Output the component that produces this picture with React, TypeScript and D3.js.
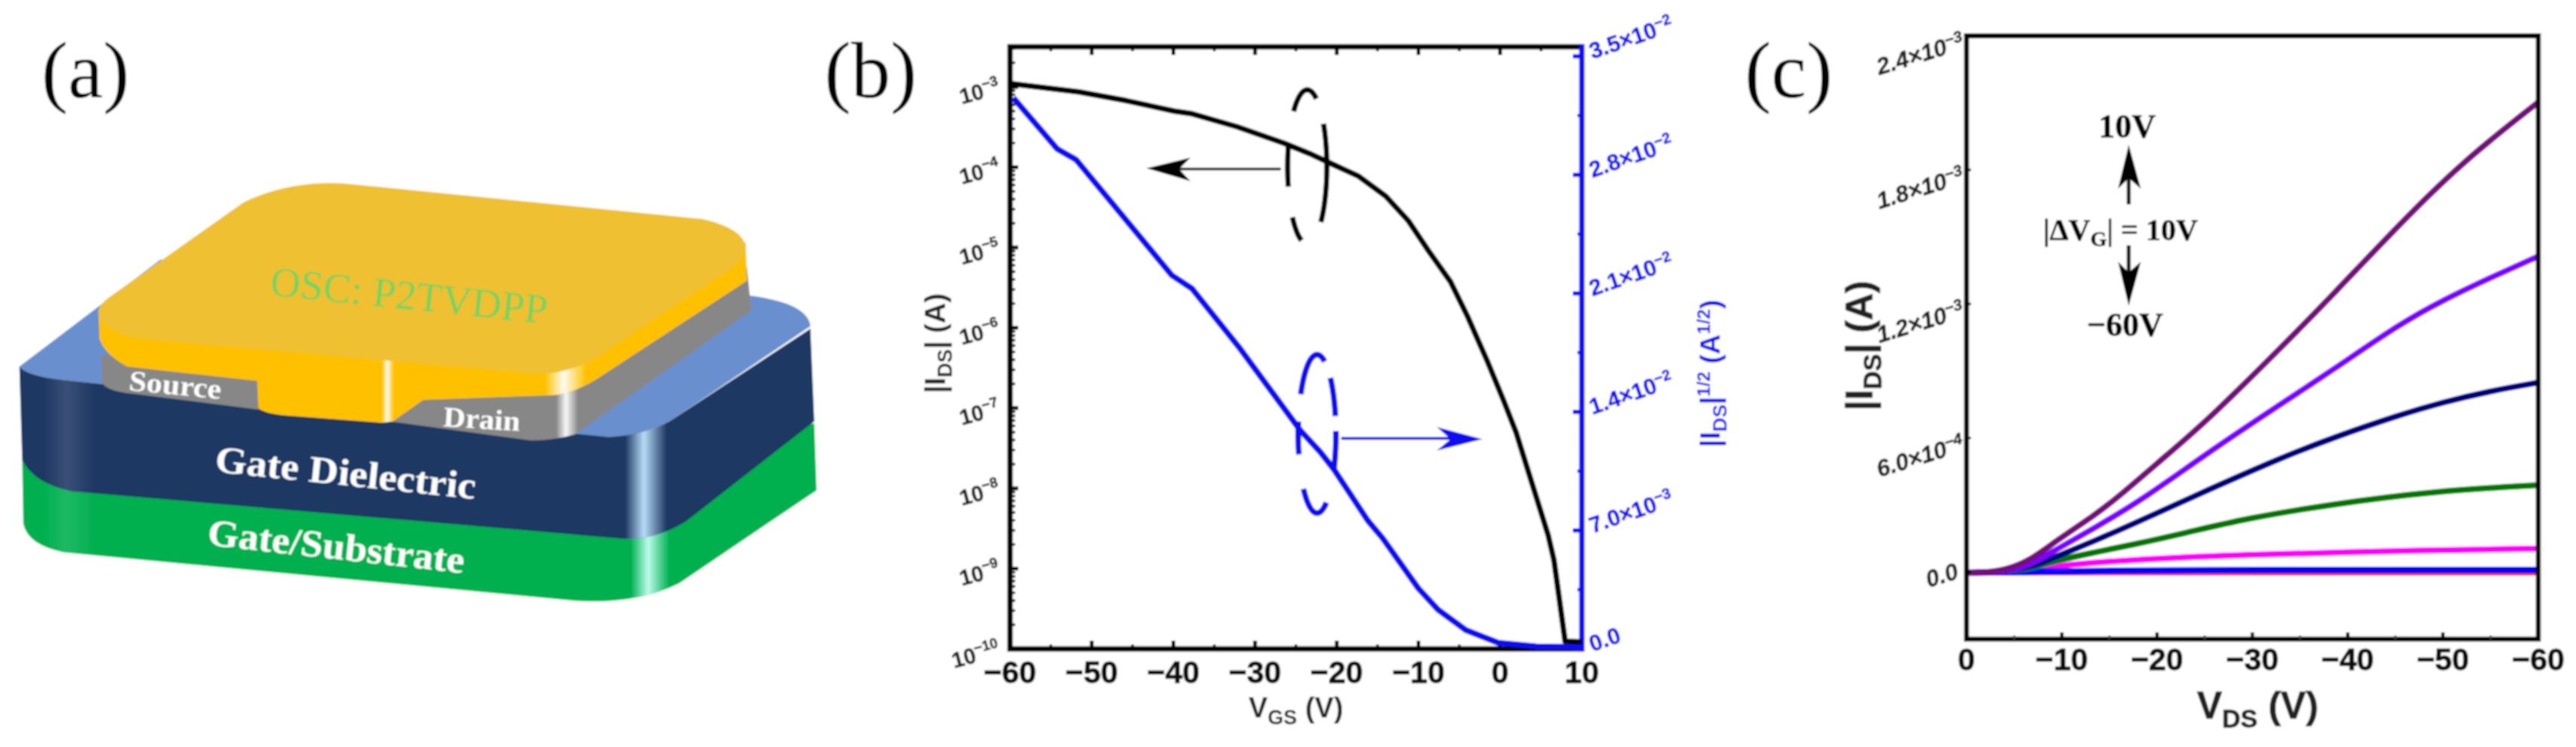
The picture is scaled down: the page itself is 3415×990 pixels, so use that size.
import React from "react";
import * as d3 from "d3";

// ---------- panel (b) data ----------
const transferVgs = [-60,-51.6,-45.8,-39.9,-37.7,-32.2,-26.4,-23,-20,-17.4,-14,-11.2,-8.8,-6.1,-3.95,-1.5,0.4,1.96,5.9,6.6,7.96,10];
const transferIds = [1.1e-3,8.69e-4,6.76e-4,5e-4,4.63e-4,3.19e-4,1.98e-4,1.43e-4,1.03e-4,7.8e-5,4.35e-5,2.13e-5,9.2e-6,3.78e-6,1.36e-6,3.7e-7,1.26e-7,4.98e-8,2.57e-9,1.26e-9,1.24e-10,1.22e-10];
const sqrtVgs = [-59.6,-54.2,-51.9,-40.2,-37.7,-32,-24.5,-22,-20.3,-16.2,-14.4,-10,-7.6,-4.2,-0.2,4.4,10];
const sqrtIds = [0.03255,0.02952,0.02889,0.02207,0.02127,0.01784,0.01293,0.01162,0.01057,0.00758,0.00655,0.00357,0.00232,0.00111,0.00036,0.00015,0.0001];
const bXTicks = [-60,-50,-40,-30,-20,-10,0,10];
const bLogTicks = [-10,-9,-8,-7,-6,-5,-4,-3];
const bRightTicks: [number,string,string][] = [[0,"0.0",""],[0.007,"7.0×10","−3"],[0.014,"1.4×10","−2"],[0.021,"2.1×10","−2"],[0.028,"2.8×10","−2"],[0.035,"3.5×10","−2"]];

// ---------- panel (c) data ----------
const vdsPurple = [0,-2,-4.2,-6.8,-9.4,-13.4,-15.8,-21.3,-25.3,-33.3,-38.5,-45.4,-52,-60];
const idsPurple = [-3e-6,-2e-6,1e-5,5.5e-5,1.4e-4,2.53e-4,3.31e-4,5.34e-4,6.79e-4,1.017e-3,1.244e-3,1.555e-3,1.835e-3,2.103e-3];
const vdsViolet = [0,-2,-4.2,-6.8,-9.4,-13.4,-18.7,-25.3,-33.3,-38.5,-45.4,-50,-55,-60];
const idsViolet = [-3e-6,-2e-6,3e-6,3.4e-5,1.01e-4,1.96e-4,3.31e-4,5.34e-4,7.61e-4,9.06e-4,1.109e-3,1.217e-3,1.318e-3,1.413e-3];
const vdsNavy = [0,-2,-4.2,-6.8,-9.4,-13.4,-17.4,-23.4,-33.3,-38.5,-45.4,-50,-55,-60];
const idsNavy = [-3e-6,-2e-6,2e-6,2.4e-5,6.8e-5,1.39e-4,2.13e-4,3.31e-4,5.17e-4,6.02e-4,7.03e-4,7.6e-4,8.11e-4,8.48e-4];
const vdsGreen = [0,-4.2,-6.8,-9.4,-13.4,-17.4,-22.7,-29.3,-38.4,-49,-60];
const idsGreen = [-3e-6,0,1.7e-5,5.1e-5,8.8e-5,1.22e-4,1.72e-4,2.4e-4,3.04e-4,3.62e-4,3.89e-4];
const vdsMagenta = [0,-4.2,-6.8,-9.4,-14.7,-20,-29.3,-49,-60];
const idsMagenta = [-3e-6,0,1e-5,2.7e-5,4.7e-5,6.1e-5,7.8e-5,9.9e-5,1.05e-4];
const vdsBlue = [0,-6,-15,-30,-60];
const idsBlue = [-3e-6,0,7e-6,1e-5,1e-5];
const vdsRed = [0,-30,-60];
const idsRed = [-7e-6,-7e-6,-7e-6];
const cXTicks = [0,-10,-20,-30,-40,-50,-60];
const cYTicks: [number,string,string][] = [[0,"0.0",""],[6e-4,"6.0×10","−4"],[1.2e-3,"1.2×10","−3"],[1.8e-3,"1.8×10","−3"],[2.4e-3,"2.4×10","−3"]];

const SANS = "'Liberation Sans', Arial, sans-serif";
const SERIF = "'Liberation Serif', 'Times New Roman', serif";
const BLUE = "#0a0af0";

type Pt = [number, number];
const zip = (a: number[], b: number[]): Pt[] => a.map((v, i) => [v, b[i]]);

const ellipseSeg = (cx: number, cy: number, rx: number, ry: number, a0: number, a1: number) => {
  const ts = d3.range(a0, a1 + 0.01, 4);
  return d3.line()(ts.map(t => [cx + rx * Math.cos(t * Math.PI / 180), cy + ry * Math.sin(t * Math.PI / 180)] as Pt)) as string;
};

function PanelB() {
  const L = 1339, R = 2097, T = 62, B = 860;
  const x = d3.scaleLinear().domain([-60, 10]).range([L, R]);
  const yL = d3.scaleLog().domain([1e-10, 10 ** -2.5]).range([B, T]);
  const yR = d3.scaleLinear().domain([0, 0.03556]).range([B, T]);
  const lineL = d3.line<Pt>().x(d => x(d[0])).y(d => yL(d[1]));
  const lineR = d3.line<Pt>().x(d => x(d[0])).y(d => yR(d[1]));
  const minors: number[] = [];
  for (const e of d3.range(-10, -2)) for (const m of d3.range(2, 10)) {
    const v = m * 10 ** e;
    if (v < 10 ** -2.5) minors.push(v);
  }
  const blackSegs: [number, number][] = [[-134,-60],[-34,47],[107,141],[165,197]];
  const blueSegs: [number, number][] = [[-150,-65],[-45,-13],[-2,27],[60,138],[165,190]];
  return (
    <g>
      <text x={1093} y={129} fontFamily={SERIF} fontSize={105}>(b)</text>
      {/* frame */}
      <path d={`M${R},${T}H${L}V${B}H${R}`} fill="none" stroke="#000" strokeWidth={7} />
      {bXTicks.map(v => (
        <g key={v}>
          <line x1={x(v)} x2={x(v)} y1={B} y2={B - 11} stroke="#000" strokeWidth={5} />
          <line x1={x(v)} x2={x(v)} y1={T} y2={T + 11} stroke="#000" strokeWidth={5} />
          <text x={x(v)} y={905} textAnchor="middle" fontFamily={SANS} fontWeight={700} fontSize={41} fill="#111" stroke="#111" strokeWidth={0.9}>
            {v < 0 ? `−${-v}` : v}
          </text>
          {v < 10 && <>
            <line x1={x(v + 5)} x2={x(v + 5)} y1={B} y2={B - 6} stroke="#000" strokeWidth={3.5} />
            <line x1={x(v + 5)} x2={x(v + 5)} y1={T} y2={T + 6} stroke="#000" strokeWidth={3.5} />
          </>}
        </g>
      ))}
      {minors.map((v, i) => <line key={i} x1={L} x2={L + 7} y1={yL(v)} y2={yL(v)} stroke="#000" strokeWidth={3} />)}
      {bLogTicks.map(e => (
        <g key={e}>
          <line x1={L} x2={L + 11} y1={yL(10 ** e)} y2={yL(10 ** e)} stroke="#000" strokeWidth={5} />
          <text transform={`translate(1327,${yL(10 ** e) + 9}) rotate(-15)`} textAnchor="end" fontFamily={SANS} fontWeight={700} fontSize={29} fill="#222" stroke="#222" strokeWidth={0.5}>
            10<tspan dy={-12} fontSize={19}>{`−${-e}`}</tspan>
          </text>
        </g>
      ))}
      {/* blue right axis */}
      <line x1={R} x2={R} y1={T - 3.5} y2={B + 3.5} stroke={BLUE} strokeWidth={7} />
      {d3.range(0.0035, 0.035, 0.007).map(v => <line key={v} x1={R} x2={R - 6} y1={yR(v)} y2={yR(v)} stroke={BLUE} strokeWidth={4} />)}
      {bRightTicks.map(([v, a, b]) => (
        <g key={v}>
          <line x1={R} x2={R - 12} y1={yR(v)} y2={yR(v)} stroke={BLUE} strokeWidth={5.5} />
          <text transform={`translate(2111,${yR(v) + 4}) rotate(-19)`} fontFamily={SANS} fontWeight={700} fontSize={30} fill={BLUE} stroke={BLUE} strokeWidth={0.5}>
            {a}{b && <tspan dy={-11} fontSize={20}>{b}</tspan>}
          </text>
        </g>
      ))}
      {/* curves */}
      <path d={lineL(zip(transferVgs, transferIds)) as string} fill="none" stroke="#000" strokeWidth={7.5} strokeLinejoin="round" />
      <path d={lineR(zip(sqrtVgs, sqrtIds)) as string} fill="none" stroke={BLUE} strokeWidth={8} strokeLinejoin="round" />
      {/* dashed ellipses */}
      {blackSegs.map(([a, b]) => <path key={a} d={ellipseSeg(1733, 221, 26, 102, a, b)} fill="none" stroke="#000" strokeWidth={7} />)}
      {blueSegs.map(([a, b]) => <path key={a} d={ellipseSeg(1746, 575, 25, 105, a, b)} fill="none" stroke={BLUE} strokeWidth={7.5} />)}
      {/* arrows */}
      <line x1={1698} x2={1560} y1={224} y2={224} stroke="#222" strokeWidth={3.5} />
      <path d="M1520,223 L1578,209 L1563,224 L1578,240 Z" fill="#000" />
      <line x1={1778} x2={1925} y1={581} y2={581} stroke={BLUE} strokeWidth={4} />
      <path d="M1965,582 L1905,566 L1923,582 L1905,597 Z" fill={BLUE} />
      {/* titles */}
      <text x={1718} y={951} textAnchor="middle" fontFamily={SANS} fontSize={38} fontWeight={700} fill="#222">
        V<tspan dy={9} fontSize={27}>GS</tspan><tspan dy={-9}> (V)</tspan>
      </text>
      <text transform="translate(1253,455) rotate(-90)" textAnchor="middle" fontFamily={SANS} fontSize={38} fontWeight={700} fill="#222">
        |I<tspan dy={9} fontSize={27}>DS</tspan><tspan dy={-9}>| (A)</tspan>
      </text>
      <text transform="translate(2280,495) rotate(-90)" textAnchor="middle" fontFamily={SANS} fontSize={37} fontWeight={700} fill={BLUE}>
        |I<tspan dy={9} fontSize={26}>DS</tspan><tspan dy={-9}>|</tspan><tspan dy={-13} fontSize={24}>1/2</tspan><tspan dy={13}> (A</tspan><tspan dy={-13} fontSize={24}>1/2</tspan><tspan dy={13}>)</tspan>
      </text>
    </g>
  );
}

function PanelC() {
  const L = 2607, R = 3365, T = 47.5, B = 847;
  const x = d3.scaleLinear().domain([0, -60]).range([L, R]);
  const y = d3.scaleLinear().domain([-3e-4, 2.4e-3]).range([B, T]);
  const line = d3.line<Pt>().x(d => x(d[0])).y(d => y(d[1])).curve(d3.curveBasis);
  const series: [number[], number[], string, number][] = [
    [vdsRed, idsRed, "#ff3030", 5],
    [vdsMagenta, idsMagenta, "#ff00ff", 8],
    [vdsBlue, idsBlue, "#0000ff", 8.5],
    [vdsGreen, idsGreen, "#007800", 8],
    [vdsNavy, idsNavy, "#00007d", 8],
    [vdsViolet, idsViolet, "#8000ff", 8],
    [vdsPurple, idsPurple, "#74107c", 8],
  ];
  return (
    <g>
      <text x={2313} y={129} fontFamily={SERIF} fontSize={105}>(c)</text>
      <g clipPath="url(#cclip)">
        {series.map(([a, b, c, w]) => <path key={c} d={line(zip(a, b)) as string} fill="none" stroke={c} strokeWidth={w} />)}
      </g>
      <rect x={L} y={T} width={R - L} height={B - T} fill="none" stroke="#000" strokeWidth={6.5} />
      {cXTicks.map(v => (
        <g key={v}>
          <line x1={x(v)} x2={x(v)} y1={B} y2={B - 9} stroke="#000" strokeWidth={4.5} />
          {v > -60 && <line x1={x(v - 5)} x2={x(v - 5)} y1={B} y2={B - 5} stroke="#444" strokeWidth={2.5} />}
          <text x={x(v)} y={888} textAnchor="middle" fontFamily={SANS} fontWeight={700} fontSize={41} fill="#111" stroke="#111" strokeWidth={0.9}>
            {v < 0 ? `−${-v}` : v}
          </text>
        </g>
      ))}
      {cYTicks.map(([v, a, b]) => (
        <g key={v}>
          <line x1={L} x2={L + 6} y1={y(v)} y2={y(v)} stroke="#000" strokeWidth={3} />
          <text transform={`translate(${b ? 2606 : 2598},${y(v) + (b ? 17 : 8)}) rotate(-17)`} textAnchor="end" fontFamily={SANS} fontWeight={700} fontStyle="italic" fontSize={31} fill="#222" stroke="#222" strokeWidth={0.5}>
            {a}{b && <tspan dy={-11} fontSize={21}>{b}</tspan>}
          </text>
        </g>
      ))}
      {/* annotation */}
      <text x={2820} y={182} textAnchor="middle" fontFamily={SERIF} fontWeight={700} fontSize={44} stroke="#000" strokeWidth={0.6}>10V</text>
      <line x1={2822} x2={2822} y1={271} y2={235} stroke="#111" strokeWidth={5} />
      <path d="M2822,192 L2838,250 L2822,236 L2808,250 Z" fill="#000" />
      <text x={2811} y={318} textAnchor="middle" fontFamily={SERIF} fontWeight={700} fontSize={40} stroke="#000" strokeWidth={0.5}>
        |ΔV<tspan dy={8} fontSize={28}>G</tspan><tspan dy={-8}>| = 10V</tspan>
      </text>
      <line x1={2822} x2={2822} y1={325} y2={362} stroke="#111" strokeWidth={5} />
      <path d="M2822,405 L2838,347 L2822,361 L2808,347 Z" fill="#000" />
      <text x={2817} y={445} textAnchor="middle" fontFamily={SERIF} fontWeight={700} fontSize={44} stroke="#000" strokeWidth={0.6}>−60V</text>
      {/* titles */}
      <text x={2993} y={952} textAnchor="middle" fontFamily={SANS} fontWeight={700} fontSize={50} fill="#222" stroke="#222" strokeWidth={0.8}>
        V<tspan dy={12} fontSize={34}>DS</tspan><tspan dy={-12}> (V)</tspan>
      </text>
      <text transform="translate(2482,458) rotate(-90)" textAnchor="middle" fontFamily={SANS} fontWeight={700} fontSize={50} fill="#222" stroke="#222" strokeWidth={0.8}>
        |I<tspan dy={12} fontSize={34}>DS</tspan><tspan dy={-12}>| (A)</tspan>
      </text>
    </g>
  );
}

function PanelA() {
  const green = "M40,965 L42,1100 Q50,1145 115,1160 L1040,1262 Q1150,1270 1228,1225 L1476,1030 L1472,890 Z";
  const navy = "M35,770 Q50,792 130,800 L1100,918 Q1160,915 1210,885 L1465,690 L1472,885 L1240,1095 Q1190,1132 1130,1132 L130,1032 Q60,1015 40,965 Z";
  const top = "M35,770 L290,545 L1350,620 Q1460,635 1465,685 L1210,885 Q1160,915 1100,918 L130,800 Q50,792 35,770 Z";
  const grey = "M1350,560 L1358,652 L1040,912 Q1000,925 960,925 L705,885 L765,840 L1040,800 Z M183,745 L185,805 Q195,822 240,827 L467,860 L465,795 Z";
  const ySide = "M178,655 L180,712 Q190,745 230,770 L465,800 L467,858 Q480,868 510,872 L690,888 L710,885 L765,840 L1000,830 Q1040,825 1080,795 L1350,590 L1348,510 Z";
  const yTop = "M178,655 Q178,640 200,622 L440,425 Q520,380 620,385 L1270,460 Q1345,480 1348,520 Q1345,545 1320,565 L1080,750 Q1030,785 970,785 L260,712 Q180,698 178,655 Z";
  const band = (id: string, clip: string, x0: number, x1: number) => (
    <rect x={x0} y={300} width={x1 - x0} height={1000} fill={`url(#${id})`} clipPath={`url(#${clip})`} />
  );
  return (
    <g>
      <text x={55} y={129} fontFamily={SERIF} fontSize={105}>(a)</text>
      <g transform="scale(0.7334,0.631)">
        <path d={green} fill="#00b050" />
        {band("hlG", "cG", 1140, 1210)}
        {band("hlF", "cG", 80, 170)}
        <path d={top} fill="#6a8fcf" />
        <path d={navy} fill="#1f3864" />
        {band("hlN", "cN", 1130, 1205)}
        {band("hlF", "cN", 80, 170)}
        <path d={grey} fill="#878787" />
        {band("hlW", "cGrey", 1005, 1045)}
        <path d={ySide} fill="#ffc000" />
        {band("hlW", "cY", 985, 1060)}
        {band("hlW", "cY", 690, 712)}
        <path d={yTop} fill="#efc030" />
      </g>
      <text transform="translate(357,391) rotate(5.9)" fontFamily={SERIF} fontSize={55} fill="#78d25f" textLength={369} lengthAdjust="spacingAndGlyphs">OSC: P2TVDPP</text>
      <text transform="translate(170,517) rotate(5.5)" fontFamily={SERIF} fontWeight={700} fontSize={38} fill="#fff" textLength={123} lengthAdjust="spacingAndGlyphs">Source</text>
      <text transform="translate(587,565) rotate(3.5)" fontFamily={SERIF} fontWeight={700} fontSize={38} fill="#fff" textLength={102} lengthAdjust="spacingAndGlyphs">Drain</text>
      <text transform="translate(284,625) rotate(6)" fontFamily={SERIF} fontWeight={700} fontSize={50} fill="#fff" textLength={347} lengthAdjust="spacingAndGlyphs">Gate Dielectric</text>
      <text transform="translate(274,722) rotate(6.3)" fontFamily={SERIF} fontWeight={700} fontSize={50} fill="#fff" textLength={342} lengthAdjust="spacingAndGlyphs">Gate/Substrate</text>
      <defs>
        <clipPath id="cG"><path d={green} /></clipPath>
        <clipPath id="cN"><path d={navy} /></clipPath>
        <clipPath id="cGrey"><path d={grey} /></clipPath>
        <clipPath id="cY"><path d={ySide} /></clipPath>
      </defs>
    </g>
  );
}

const Hl = ({ id, color, o }: { id: string; color: string; o: number }) => (
  <linearGradient id={id}>
    <stop offset="0" stopColor={color} stopOpacity={0} />
    <stop offset="0.45" stopColor={color} stopOpacity={o} />
    <stop offset="1" stopColor={color} stopOpacity={0} />
  </linearGradient>
);

export default function App() {
  return (
    <svg width={3415} height={990} viewBox="0 0 3415 990" style={{ position: "absolute", left: 0, top: 0, background: "#fff" }}>
      <defs>
        <filter id="soft" x="0" y="0" width="100%" height="100%" filterUnits="objectBoundingBox">
          <feGaussianBlur stdDeviation="1.1" />
        </filter>
        <clipPath id="cclip"><rect x={2607} y={47} width={758} height={800} /></clipPath>
        <Hl id="hlG" color="#c8fff4" o={0.95} />
        <Hl id="hlN" color="#bfe4ff" o={0.95} />
        <Hl id="hlF" color="#ffffff" o={0.12} />
        <Hl id="hlW" color="#ffffff" o={0.95} />
      </defs>
      <rect width={3415} height={990} fill="#fff" />
      <g filter="url(#soft)">
        <rect width={3415} height={990} fill="#fff" />
        <PanelA />
        <PanelB />
        <PanelC />
      </g>
    </svg>
  );
}
